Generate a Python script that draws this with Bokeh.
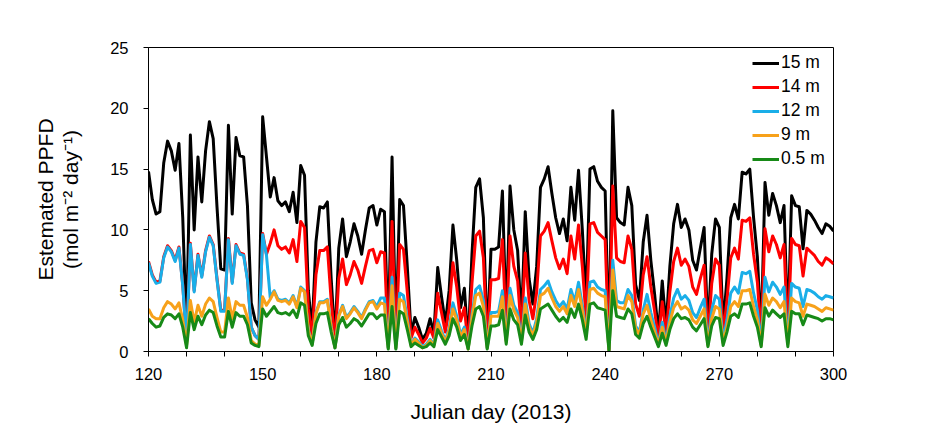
from bokeh.plotting import figure
from bokeh.models import Range1d, FixedTicker, Legend, LegendItem, Title
from bokeh.embed import file_html
from bokeh.resources import INLINE

days = list(range(120, 301))

d15m = [
    14.8, 12.5, 11.3, 11.5, 15.5, 17.3, 16.5, 14.9, 17.1, 11.0,
    1.5, 17.8, 10.0, 16.0, 12.3, 16.5, 18.9, 17.5, 11.9, 6.8,
    6.7, 18.6, 11.3, 17.6, 16.1, 16.0, 12.0, 4.0, 2.6, 2.0,
    19.3, 16.0, 12.7, 14.3, 12.4, 12.0, 12.3, 11.5, 13.1, 10.6,
    15.3, 14.5, 5.0, 1.7, 9.0, 11.9, 11.8, 12.3, 6.0, 0.9,
    8.5, 10.9, 7.8, 9.0, 10.5, 9.5, 8.0, 10.0, 11.8, 12.0,
    10.4, 11.7, 11.5, 0.9, 16.0, 0.9, 12.5, 12.0, 7.0, 1.5,
    2.8, 2.0, 1.0, 1.5, 2.7, 1.5, 6.9, 4.5, 2.3, 5.0,
    10.4, 7.5, 3.6, 5.2, 0.65, 8.0, 13.5, 14.2, 11.0, 0.9,
    8.4, 8.4, 8.6, 13.2, 2.3, 13.6, 10.0, 8.3, 2.3, 11.5,
    6.0, 3.9, 7.0, 13.5, 14.2, 15.2, 13.0, 11.0, 9.7, 10.9,
    9.1, 13.5, 10.8, 14.9, 10.0, 3.9, 15.0, 15.2, 14.0, 13.5,
    13.2, 0.2, 19.8, 11.0, 10.6, 10.4, 13.5, 12.0, 5.5, 4.2,
    9.0, 11.2, 7.5, 4.7, 1.45, 5.8, 2.0, 7.0, 10.5, 12.1,
    10.2, 10.9, 10.0, 7.5, 6.7, 8.5, 10.2, 1.45, 8.0, 10.9,
    10.2, 2.0, 6.0, 11.0, 12.1, 10.9, 14.75, 14.6, 15.0, 11.0,
    7.75, 1.45, 13.9, 11.2, 13.0, 12.0, 10.6, 12.0, 1.7, 12.8,
    12.0, 11.9, 8.45, 11.6, 11.3, 10.8, 10.2, 9.7, 10.5, 10.3, 9.9,
]

d14m = [
    7.4, 6.3, 5.7, 5.8, 7.8, 8.7, 8.3, 7.5, 8.6, 5.5,
    0.8, 8.9, 5.0, 8.0, 6.2, 8.3, 9.5, 8.8, 6.0, 3.4,
    3.4, 9.3, 5.7, 8.8, 8.1, 8.0, 6.0, 2.0, 1.3, 1.0,
    9.7, 8.0, 8.9, 10.0, 8.7, 8.4, 8.6, 8.1, 9.2, 7.4,
    10.7, 10.2, 3.5, 1.2, 6.3, 8.3, 8.3, 8.6, 4.2, 0.6,
    6.0, 7.6, 5.5, 6.3, 7.4, 6.7, 5.6, 7.0, 8.3, 8.4,
    7.3, 8.2, 8.1, 0.6, 10.7, 0.6, 8.8, 8.4, 4.9, 1.1,
    2.0, 1.4, 0.7, 1.1, 1.9, 1.1, 4.8, 3.2, 1.6, 3.5,
    7.3, 5.3, 2.5, 3.6, 0.5, 5.6, 9.5, 9.9, 7.7, 0.6,
    5.9, 5.9, 6.0, 9.2, 1.6, 9.5, 7.0, 5.8, 1.6, 8.1,
    4.2, 2.7, 4.9, 9.5, 9.9, 10.6, 9.1, 7.7, 6.8, 7.6,
    6.4, 9.5, 7.6, 10.4, 7.0, 2.7, 10.5, 10.6, 9.8, 9.5,
    9.2, 0.1, 13.6, 7.7, 7.4, 7.3, 9.5, 8.4, 3.9, 2.9,
    6.3, 7.8, 5.3, 3.3, 1.0, 4.1, 1.4, 4.9, 7.4, 8.5,
    7.1, 7.6, 7.0, 5.3, 4.7, 6.0, 7.1, 1.0, 5.6, 7.6,
    7.1, 1.4, 4.2, 7.7, 8.5, 7.6, 10.8, 10.7, 11.0, 8.0,
    5.7, 1.1, 10.1, 8.2, 9.5, 8.8, 7.7, 8.8, 1.2, 9.3,
    8.8, 8.7, 6.2, 8.5, 8.2, 7.9, 7.4, 7.1, 7.7, 7.5, 7.2,
]

d12m = [
    7.3, 6.2, 5.6, 5.7, 7.7, 8.6, 8.2, 7.4, 8.5, 5.4,
    0.8, 8.8, 4.9, 7.9, 6.1, 8.2, 9.4, 8.7, 5.9, 3.3,
    3.3, 9.2, 5.6, 8.7, 8.0, 7.9, 5.9, 2.0, 1.3, 1.0,
    9.6, 7.9, 4.4, 5.0, 4.3, 4.2, 4.3, 4.0, 4.6, 3.7,
    5.3, 5.0, 1.8, 0.6, 3.2, 4.1, 4.1, 4.3, 2.1, 0.3,
    3.0, 3.8, 2.8, 3.2, 3.7, 3.3, 2.8, 3.5, 4.1, 4.2,
    3.7, 4.4, 4.4, 0.3, 6.1, 0.3, 4.8, 4.6, 2.7, 0.6,
    1.1, 0.8, 0.4, 0.6, 1.0, 0.6, 2.6, 1.7, 0.9, 1.9,
    4.0, 2.9, 1.4, 2.0, 0.25, 3.0, 5.1, 5.4, 4.2, 0.3,
    3.2, 3.2, 3.3, 5.0, 0.9, 5.2, 3.8, 3.2, 0.9, 4.4,
    2.3, 1.5, 2.7, 5.1, 5.4, 5.8, 4.9, 4.2, 3.7, 4.1,
    3.5, 5.1, 4.1, 5.7, 3.8, 1.5, 5.7, 5.8, 5.3, 5.1,
    5.0, 0.1, 7.5, 4.2, 4.0, 4.0, 5.1, 4.6, 2.1, 1.6,
    3.4, 4.7, 3.2, 2.0, 0.6, 2.4, 0.8, 2.9, 4.4, 5.1,
    4.3, 4.6, 4.2, 3.2, 2.8, 3.6, 4.3, 0.6, 3.4, 4.6,
    4.3, 0.9, 2.6, 4.8, 5.3, 4.8, 6.5, 6.4, 6.6, 4.8,
    3.4, 0.6, 6.1, 4.9, 5.7, 5.3, 4.7, 5.3, 0.7, 5.6,
    5.3, 5.2, 3.7, 5.1, 5.0, 4.8, 4.5, 4.3, 4.6, 4.5, 4.4,
]

d9m = [
    3.5, 2.9, 2.7, 2.7, 3.6, 4.1, 3.9, 3.5, 4.0, 2.6,
    0.5, 4.2, 2.4, 3.8, 2.9, 3.9, 4.4, 4.1, 2.8, 1.6,
    1.6, 4.4, 2.7, 4.1, 3.8, 3.8, 2.8, 0.9, 0.6, 0.5,
    4.5, 3.8, 4.3, 4.9, 4.2, 4.1, 4.2, 3.9, 4.5, 3.6,
    5.2, 4.9, 1.7, 0.6, 3.1, 4.0, 4.0, 4.2, 2.0, 0.3,
    2.9, 3.7, 2.7, 3.1, 3.6, 3.2, 2.7, 3.4, 4.0, 4.1,
    3.5, 4.0, 3.9, 0.3, 5.4, 0.3, 4.3, 4.1, 2.4, 0.5,
    1.0, 0.7, 0.3, 0.5, 0.9, 0.5, 2.3, 1.5, 0.8, 1.7,
    3.5, 2.6, 1.2, 1.8, 0.2, 2.7, 4.6, 4.8, 3.7, 0.3,
    2.9, 2.9, 2.9, 4.5, 0.8, 4.6, 3.4, 2.8, 0.8, 3.9,
    2.0, 1.3, 2.4, 4.6, 4.8, 5.2, 4.4, 3.7, 3.3, 3.7,
    3.1, 4.6, 3.7, 5.1, 3.4, 1.3, 5.1, 5.2, 4.8, 4.6,
    4.5, 0.1, 6.7, 3.7, 3.6, 3.5, 4.6, 4.1, 1.9, 1.4,
    3.1, 3.8, 2.6, 1.6, 0.5, 2.0, 0.7, 2.4, 3.6, 4.1,
    3.5, 3.7, 3.4, 2.6, 2.3, 2.9, 3.5, 0.5, 2.7, 3.7,
    3.5, 0.7, 2.0, 3.7, 4.1, 3.7, 5.0, 5.0, 5.1, 3.7,
    2.6, 0.5, 4.7, 3.8, 4.4, 4.1, 3.6, 4.1, 0.6, 4.4,
    4.1, 4.0, 2.9, 3.9, 3.8, 3.7, 3.5, 3.3, 3.6, 3.5, 3.4,
]

d05m = [
    2.7, 2.3, 2.0, 2.1, 2.8, 3.1, 3.0, 2.7, 3.1, 2.0,
    0.3, 3.2, 1.8, 2.9, 2.2, 3.0, 3.4, 3.2, 2.1, 1.2,
    1.2, 3.3, 2.0, 3.2, 2.9, 2.9, 2.2, 0.7, 0.5, 0.4,
    3.5, 2.9, 3.3, 3.7, 3.2, 3.1, 3.2, 3.0, 3.4, 2.8,
    4.0, 3.8, 1.3, 0.5, 2.3, 3.1, 3.1, 3.2, 1.6, 0.3,
    2.2, 2.8, 2.0, 2.3, 2.7, 2.5, 2.1, 2.6, 3.1, 3.1,
    2.7, 3.0, 3.0, 0.2, 3.7, 0.2, 3.3, 3.1, 1.8, 0.4,
    0.7, 0.5, 0.3, 0.4, 0.7, 0.4, 1.8, 1.2, 0.6, 1.3,
    2.7, 2.0, 0.9, 1.4, 0.2, 2.1, 3.5, 3.7, 2.9, 0.2,
    2.1, 2.1, 2.2, 3.4, 0.6, 3.5, 2.6, 2.2, 0.6, 3.0,
    1.6, 1.0, 1.8, 3.5, 3.7, 3.9, 3.4, 2.9, 2.5, 2.8,
    2.4, 3.5, 2.8, 3.9, 2.6, 1.0, 3.9, 4.0, 3.6, 3.5,
    3.4, 0.1, 5.0, 2.9, 2.8, 2.7, 3.5, 3.1, 1.4, 1.1,
    2.3, 2.9, 2.0, 1.2, 0.4, 1.5, 0.5, 1.8, 2.7, 3.1,
    2.7, 2.8, 2.6, 2.0, 1.7, 2.2, 2.7, 0.4, 2.1, 2.8,
    2.7, 0.5, 1.6, 2.9, 3.1, 2.8, 3.9, 3.9, 4.0, 2.9,
    2.0, 0.4, 3.6, 2.9, 3.4, 3.1, 2.8, 3.1, 0.4, 3.3,
    3.1, 3.1, 2.2, 3.0, 2.9, 2.8, 2.7, 2.5, 2.7, 2.7, 2.6,
]

series_names = ["15 m", "14 m", "12 m", "9 m", "0.5 m"]
series_values = [d15m, d14m, d12m, d9m, d05m]
series_colors = ["#000000", "#FF0000", "#1AAEE8", "#F7A11A", "#178A17"]

x_ticks = [120, 130, 140, 150, 160, 170, 180, 190, 200, 210, 220, 230, 240,
           250, 260, 270, 280, 290, 300]
x_tick_labels = ["120", "", "", "150", "", "", "180", "", "", "210", "", "",
                 "240", "", "", "270", "", "", "300"]
y_ticks = [0, 5, 10, 15, 20, 25]

x_title = "Julian day (2013)"
y_title_1 = "Estemated PPFD"
y_title_2 = "(mol m\u207b\u00b2 day\u207b\u00b9)"

for s in series_values:
    assert len(s) == len(days), len(s)

FONT = "Liberation Sans"

p = figure(width=932, height=430, x_range=Range1d(120, 300), y_range=Range1d(0, 25),
           output_backend="svg", toolbar_location=None,
           min_border_left=148, min_border_right=99, min_border_top=47, min_border_bottom=79)
p.xgrid.visible = False
p.ygrid.visible = False
p.outline_line_color = "black"
p.outline_line_alpha = 1
p.outline_line_width = 1
p.background_fill_color = "white"
p.border_fill_color = "white"

xa = p.xaxis[0]
xa.ticker = FixedTicker(ticks=x_ticks, minor_ticks=[])
xa.major_label_overrides = {t: l for t, l in zip(x_ticks, x_tick_labels)}
ya = p.yaxis[0]
ya.ticker = FixedTicker(ticks=y_ticks, minor_ticks=[])
for ax in (xa, ya):
    ax.axis_line_color = "black"
    ax.major_tick_line_color = "black"
    ax.major_tick_out = 5
    ax.major_tick_in = 0
    ax.minor_tick_out = 0
    ax.minor_tick_in = 0
    ax.major_label_text_font = FONT
    ax.major_label_text_font_size = "16.5px"
    ax.major_label_text_color = "black"
    ax.axis_label_text_font = FONT
    ax.axis_label_text_font_size = "21px"
    ax.axis_label_text_font_style = "normal"
    ax.axis_label_text_color = "black"
xa.major_label_standoff = 11
ya.major_label_standoff = 15

xa.axis_label = x_title
xa.axis_label_standoff = 17
ya.axis_label = y_title_2
ya.axis_label_standoff = 25

p.add_layout(Title(text=y_title_1, align="center", text_font=FONT, text_font_size="21px",
                   text_font_style="normal", text_color="black", standoff=0, offset=0), "left")

renderers = []
for vals, col in zip(series_values, series_colors):
    r = p.line(days, vals, line_color=col, line_width=3, line_join="round")
    renderers.append(r)

legend = Legend(items=[LegendItem(label=n, renderers=[r]) for n, r in zip(series_names, renderers)],
                location=(604, 182), orientation="vertical", padding=0, margin=0, spacing=3,
                glyph_width=27, glyph_height=20, label_height=20, label_standoff=2,
                label_text_font=FONT, label_text_font_size="17.5px", label_text_color="black",
                border_line_alpha=0, background_fill_alpha=0)
p.add_layout(legend)

open("out.html", "w").write(file_html(p, INLINE))
